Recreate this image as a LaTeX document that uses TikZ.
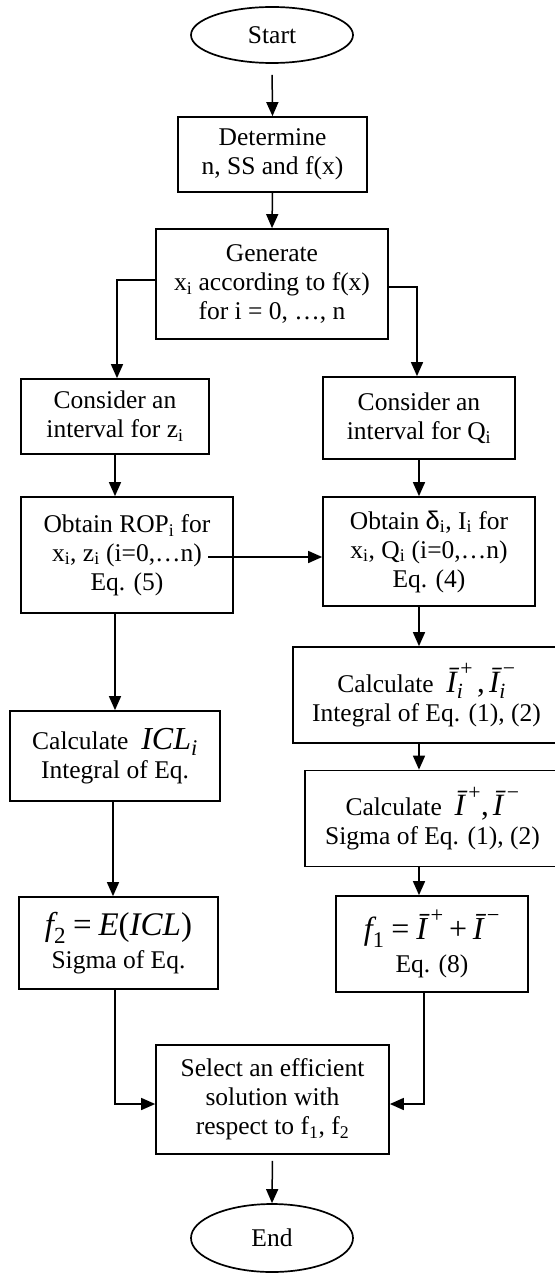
\documentclass[tikz,border=0pt]{standalone}
\usepackage{amsmath}
\usepackage{fontspec}
\setmainfont{Liberation Serif}
\setsansfont{Liberation Sans}
\usetikzlibrary{arrows.meta,shapes.geometric,calc}
\newcommand{\mi}[1]{\text{\itshape #1}}
\newcommand{\mt}[1]{\text{#1}}
\newcommand{\sub}[1]{\textsubscript{#1}}
\begin{document}
\begin{tikzpicture}[x=1pt,y=-1pt,
  every node/.style={font=\fontsize{25.5}{29}\selectfont, align=center, inner sep=0pt},
  box/.style={draw, line width=1.7pt, rectangle},
  term/.style={draw, line width=1.7pt, ellipse, minimum width=162pt},
  arr/.style={line width=1.5pt, -{Triangle[length=14pt,width=12pt]}}
]
\useasboundingbox (0,0) rectangle (554,1273);

\node[term, minimum height=56pt] (start) at (272,35) {Start};
\node[box, minimum width=189pt, minimum height=75pt] (det) at (272.5,154.5) {Determine\\n, SS and f(x)};
\node[box, minimum width=232pt, minimum height=110pt] (gen) at (272,284) {Generate\\x\sub{i} according to f(x)\\for i = 0, …, n};
\node[box, minimum width=188pt, minimum height=75pt] (consL) at (115,416.5) {Consider an\\interval for z\sub{i}};
\node[box, minimum width=192pt, minimum height=82pt] (consR) at (419,418) {Consider an\\interval for Q\sub{i}};
\node[box, minimum width=212pt, minimum height=116pt] (rop) at (127,555) {Obtain ROP\sub{i} for\\x\sub{i}, z\sub{i} (i=0,…n)\\Eq. (5)};
\node[box, minimum width=212pt, minimum height=109pt] (delta) at (429,551.5) {Obtain {\sffamily δ}\sub{i}, I\sub{i} for\\x\sub{i}, Q\sub{i} (i=0,…n)\\Eq. (4)};
\node[box, minimum width=267pt, minimum height=96pt] (calcIi) at (426.5,695) {Calculate\ \ {\fontsize{31}{29}\selectfont$\mi{Ī}^{\,\mt{+}}_{\mi{i}}\,\mt{,}\,\mi{Ī}^{\,\mt{−}}_{\mi{i}}$}\\Integral of Eq. (1), (2)};
\node[box, minimum width=255pt, minimum height=96pt] (calcI) at (432.5,818.5) {Calculate\ \ {\fontsize{31}{29}\selectfont$\mi{Ī}^{\,\mt{+}}\mt{,}\,\mi{Ī}^{\,\mt{−}}$}\\Sigma of Eq. (1), (2)};
\node[box, minimum width=192pt, minimum height=96pt] (f1) at (432,944) {{\fontsize{32}{29}\selectfont$\mi{f}_{\mt{1}}\mathrel{\mt{=}}\mi{Ī}^{\,\mt{+}}\mathbin{\mt{+}}\mi{Ī}^{\,\mt{−}}$}\\[4pt]Eq. (8)};
\node[box, minimum width=210pt, minimum height=90pt] (icl) at (115,756) {Calculate\ \ {\fontsize{32}{29}\selectfont$\mi{ICL}_{\mi{i}}$}\\Integral of Eq.};
\node[box, minimum width=199pt, minimum height=92pt] (f2) at (118.5,943) {{\fontsize{33}{29}\selectfont$\mi{f}_{\mt{2}}\mathrel{\mt{=}}\mi{E}\mt{(}\mi{ICL}\mt{)}$}\\[4pt]Sigma of Eq.};
\node[box, minimum width=233pt, minimum height=109pt] (sel) at (272.5,1099.5) {Select an efficient\\solution with\\respect to f\sub{1}, f\sub{2}};
\node[term, minimum height=68pt] (end) at (272,1238) {End};

\coordinate (ropout) at (208,557);

\draw[arr, shorten <=11pt] (start.south) -- (det.north);
\draw[arr] (det.south) -- (gen.north);
\draw[arr] ([yshift=4pt]gen.west) -| ([xshift=2pt]consL.north);
\draw[arr] ([yshift=-3pt]gen.east) -| ([xshift=-2pt]consR.north);
\draw[arr] (consL.south) -- (consL.south |- rop.north);
\draw[arr] (consR.south) -- (consR.south |- delta.north);
\draw[arr] (ropout) -- (ropout -| delta.west);
\draw[arr] (consR.south |- delta.south) -- (consR.south |- calcIi.north);
\draw[arr] (consR.south |- calcIi.south) -- (consR.south |- calcI.north);
\draw[arr] (consR.south |- calcI.south) -- (consR.south |- f1.north);
\draw[arr] (icl.north |- rop.south) -- (icl.north);
\draw[arr] ([xshift=-2pt]icl.south) -- ([xshift=-2pt]icl.south |- f2.north);
\draw[arr] ([xshift=-3.5pt]f2.south) |- ([yshift=-4.5pt]sel.west);
\draw[arr] ([xshift=-8pt]f1.south) |- ([yshift=-4.5pt]sel.east);
\draw[arr, shorten <=6pt] (sel.south) -- (end.north);
\end{tikzpicture}
\end{document}
